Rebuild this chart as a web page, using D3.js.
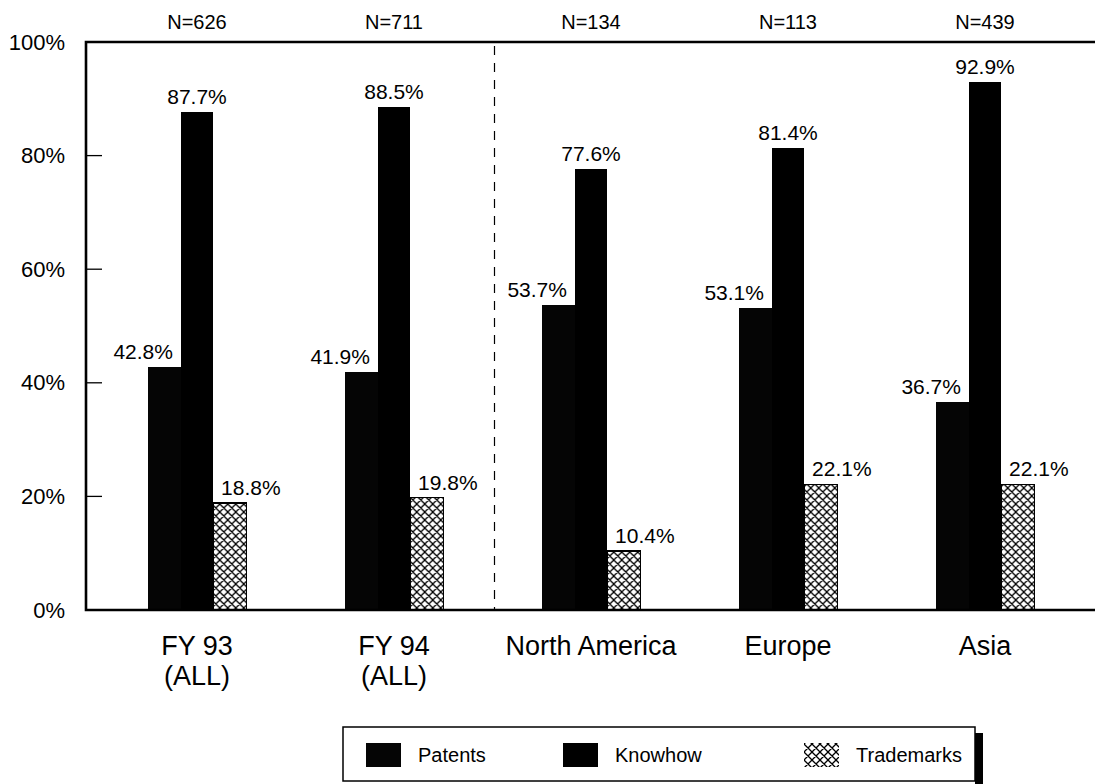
<!DOCTYPE html>
<html>
<head>
<meta charset="utf-8">
<script src="https://cdn.jsdelivr.net/npm/d3@7"></script>
<style>
  html, body { margin: 0; padding: 0; background: #fff; }
  svg { display: block; }
  text { font-family: "Liberation Sans", Arial, Helvetica, sans-serif; fill: #000; }
</style>
</head>
<body>
<svg id="chart" width="1095" height="784"></svg>
<script>
// Share of licensing agreements covering each kind of intellectual property
const categories = ["FY 93|(ALL)", "FY 94|(ALL)", "North America", "Europe", "Asia"];
const sampleSizes = ["N=626", "N=711", "N=134", "N=113", "N=439"];
const seriesNames = ["Patents", "Knowhow", "Trademarks"];
const patents = [42.8, 41.9, 53.7, 53.1, 36.7];
const knowhow = [87.7, 88.5, 77.6, 81.4, 92.9];
const trademarks = [18.8, 19.8, 10.4, 22.1, 22.1];
const yTicks = [0, 20, 40, 60, 80, 100];

const seriesValues = [patents, knowhow, trademarks];
const rows = categories.map((c, i) => ({
  cat: c,
  n: sampleSizes[i],
  values: seriesNames.map((s, j) => ({ series: s, value: seriesValues[j][i] }))
}));

const svg = d3.select("#chart");
const plot = { left: 86, right: 1099, top: 42, bottom: 610 };

const y = d3.scaleLinear().domain([0, 100]).range([plot.bottom, plot.top]);
const x0 = d3.scaleBand().domain(categories).range([98.5, 1083.5])
  .paddingInner(0.5).paddingOuter(0.25);
const x1 = d3.scaleBand().domain(seriesNames).range([0, x0.bandwidth()]);

// cross-hatch fill for trademarks
const defs = svg.append("defs");
const pat = defs.append("pattern")
  .attr("id", "hatch").attr("patternUnits", "userSpaceOnUse")
  .attr("width", 8).attr("height", 8);
pat.append("rect").attr("width", 8).attr("height", 8).attr("fill", "#fff");
pat.append("path").attr("d", "M0,0 L8,8 M8,0 L0,8 M-2,6 L2,10 M6,-2 L10,2 M-2,2 L2,-2 M6,10 L10,6")
  .attr("stroke", "#000").attr("stroke-width", 1.3);

const fills = { Patents: "#050505", Knowhow: "#000", Trademarks: "url(#hatch)" };

// separator between the yearly totals and the regional breakdown
const sepX = (x0(categories[1]) + x0.bandwidth() + x0(categories[2])) / 2 + 2;
svg.append("line")
  .attr("x1", sepX).attr("x2", sepX)
  .attr("y1", plot.top + 4).attr("y2", plot.bottom)
  .attr("stroke", "#000").attr("stroke-width", 1.2)
  .attr("stroke-dasharray", "9,8");

// bars
const groups = svg.append("g").selectAll("g").data(rows).join("g")
  .attr("transform", d => `translate(${x0(d.cat)},0)`);

groups.selectAll("rect").data(d => d.values).join("rect")
  .attr("x", d => x1(d.series))
  .attr("width", x1.bandwidth())
  .attr("y", d => y(d.value))
  .attr("height", d => y(0) - y(d.value))
  .attr("fill", d => fills[d.series])
  .attr("stroke", d => d.series === "Trademarks" ? "#000" : "none")
  .attr("stroke-width", 1.5)
  .attr("shape-rendering", "crispEdges");

// value labels above bars
const labelShift = { Patents: -21, Knowhow: 0, Trademarks: 21 };
groups.selectAll("text.val").data(d => d.values).join("text")
  .attr("class", "val")
  .attr("x", d => x1(d.series) + x1.bandwidth() / 2 + labelShift[d.series])
  .attr("y", d => y(d.value) - 8)
  .attr("text-anchor", "middle")
  .attr("font-size", 21)
  .text(d => d.value.toFixed(1) + "%");

// sample size above each group
svg.append("g").selectAll("text").data(rows).join("text")
  .attr("x", d => x0(d.cat) + x0.bandwidth() / 2)
  .attr("y", 29)
  .attr("text-anchor", "middle")
  .attr("font-size", 20)
  .text(d => d.n);

// y axis with inward ticks
const yAxis = d3.axisLeft(y).tickValues(yTicks).tickFormat(d => d + "%").tickSize(0).tickPadding(21);
const gy = svg.append("g").attr("transform", `translate(${plot.left},0)`).call(yAxis);
gy.select(".domain").remove();
gy.selectAll("text").attr("font-size", 22).attr("font-family", "Liberation Sans, Arial, sans-serif").attr("fill", "#000");
svg.append("g").selectAll("line").data(yTicks.filter(t => t > 0 && t < 100)).join("line")
  .attr("x1", plot.left).attr("x2", plot.left + 16)
  .attr("y1", d => y(d)).attr("y2", d => y(d))
  .attr("stroke", "#000").attr("stroke-width", 1.3);

// frame: left, top and baseline
svg.append("path")
  .attr("d", `M${plot.right},${plot.top} H${plot.left} V${plot.bottom} H${plot.right}`)
  .attr("fill", "none").attr("stroke", "#000").attr("stroke-width", 2.6);

// category labels (two lines where needed)
const xAxis = svg.append("g").selectAll("text").data(categories).join("text")
  .attr("x", d => x0(d) + x0.bandwidth() / 2)
  .attr("y", 655)
  .attr("text-anchor", "middle")
  .attr("font-size", 27);
xAxis.selectAll("tspan").data(d => d.split("|")).join("tspan")
  .attr("x", function () { return d3.select(this.parentNode).attr("x"); })
  .attr("dy", (d, i) => i === 0 ? 0 : 30)
  .text(d => d);

// legend
const lg = svg.append("g");
const box = { x: 343, y: 727, w: 632, h: 54 };
lg.append("rect").attr("x", box.x + box.w).attr("y", box.y + 6).attr("width", 8).attr("height", box.h + 3).attr("fill", "#000");
lg.append("rect").attr("x", box.x).attr("y", box.y).attr("width", box.w).attr("height", box.h)
  .attr("fill", "#fff").attr("stroke", "#000").attr("stroke-width", 1.5);
const legendX = [366, 563, 804];
const items = lg.selectAll("g.item").data(seriesNames).join("g")
  .attr("class", "item")
  .attr("transform", (d, i) => `translate(${legendX[i]},0)`);
items.append("rect").attr("x", 0).attr("y", 743).attr("width", 35).attr("height", 24)
  .attr("fill", d => fills[d]);
items.append("text").attr("x", 52).attr("y", 762).attr("font-size", 20).text(d => d);
</script>
</body>
</html>
